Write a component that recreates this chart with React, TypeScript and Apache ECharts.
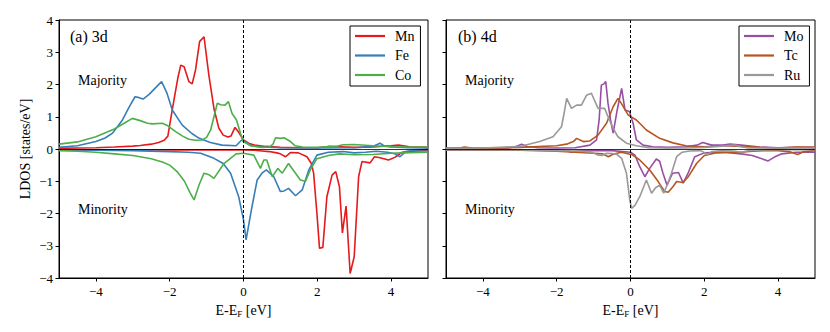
import React, { useEffect, useRef } from "react";
import * as echarts from "echarts";

// ---------- data (energy E-E_F in eV, LDOS in states/eV) ----------
// (a) 3d
const mnUpE = [-5, -4.5, -4, -3.5, -3, -2.8, -2.5, -2.3, -2.15, -2.05, -1.97, -1.88, -1.78, -1.7, -1.61, -1.48, -1.39, -1.3, -1.19, -1.07, -0.94, -0.8, -0.67, -0.55, -0.42, -0.34, -0.23, -0.13, 0, 0.15, 0.3, 0.6, 1, 1.5, 2, 2.3, 2.6, 3, 3.5, 4, 4.2, 4.5, 5];
const mnUpV = [0.02, 0.03, 0.04, 0.06, 0.09, 0.11, 0.15, 0.2, 0.27, 0.4, 0.95, 1.55, 2.2, 2.6, 2.55, 2.09, 2.02, 2.45, 3.33, 3.48, 2.3, 1.25, 0.65, 0.43, 0.37, 0.4, 0.67, 0.52, 0.28, 0.17, 0.12, 0.08, 0.05, 0.04, 0.04, 0.08, 0.07, 0.05, 0.06, 0.1, 0.12, 0.07, 0.05];
const mnDnE = [-5, -3, -1, 0, 0.3, 0.5, 0.7, 0.9, 1.0, 1.14, 1.27, 1.49, 1.72, 1.84, 1.9, 1.99, 2.06, 2.15, 2.26, 2.4, 2.5, 2.6, 2.68, 2.78, 2.89, 3.0, 3.12, 3.21, 3.43, 3.55, 3.7, 3.93, 4.1, 4.3, 4.5, 5];
const mnDnV = [-0.02, -0.03, -0.03, -0.03, -0.04, -0.06, -0.08, -0.12, -0.15, -0.24, -0.11, -0.12, -0.24, -0.45, -0.75, -2.0, -3.08, -3.05, -1.48, -0.81, -0.7, -1.17, -2.6, -1.77, -3.86, -3.34, -0.86, -0.39, -0.43, -0.24, -0.27, -0.34, -0.26, -0.1, -0.07, -0.05];

const feUpE = [-5, -4.5, -4, -3.75, -3.55, -3.28, -3.1, -2.94, -2.85, -2.72, -2.55, -2.4, -2.22, -2.08, -1.93, -1.66, -1.4, -1.2, -0.9, -0.58, -0.2, -0.05, 0.05, 0.2, 0.5, 1, 2, 3, 3.5, 3.7, 3.8, 4, 4.5, 5];
const feUpV = [0.05, 0.1, 0.23, 0.34, 0.49, 0.9, 1.3, 1.62, 1.6, 1.55, 1.7, 1.88, 2.09, 1.75, 1.21, 0.74, 0.48, 0.33, 0.2, 0.12, 0.1, 0.28, 0.22, 0.1, 0.06, 0.04, 0.03, 0.04, 0.08, 0.18, 0.1, 0.06, 0.04, 0.03];
const feDnE = [-5, -4, -3, -2, -1.5, -1.16, -0.8, -0.55, -0.35, -0.13, 0, 0.07, 0.15, 0.23, 0.37, 0.5, 0.62, 0.82, 1.0, 1.1, 1.22, 1.41, 1.59, 1.77, 1.99, 2.3, 2.7, 3.0, 3.3, 3.6, 3.9, 4.1, 4.24, 4.4, 4.7, 5];
const feDnV = [-0.03, -0.04, -0.05, -0.08, -0.1, -0.13, -0.29, -0.45, -0.75, -1.48, -2.2, -2.82, -2.3, -1.79, -0.96, -0.75, -0.65, -0.86, -1.32, -1.3, -1.22, -1.45, -1.27, -0.65, -0.19, -0.1, -0.08, -0.12, -0.1, -0.07, -0.1, -0.15, -0.24, -0.08, -0.03, -0.02];

const coUpE = [-5, -4.5, -4, -3.5, -3.2, -3.01, -2.8, -2.6, -2.47, -2.2, -2.05, -1.84, -1.65, -1.48, -1.3, -1.12, -1.0, -0.89, -0.71, -0.62, -0.5, -0.41, -0.31, -0.19, -0.08, 0, 0.2, 0.5, 0.7, 0.8, 0.87, 1.0, 1.1, 1.25, 1.4, 1.6, 2, 2.5, 2.7, 3, 3.5, 4, 5];
const coUpV = [0.15, 0.22, 0.38, 0.62, 0.82, 0.95, 0.88, 0.8, 0.78, 0.8, 0.72, 0.54, 0.4, 0.3, 0.27, 0.28, 0.36, 0.59, 1.42, 1.37, 1.36, 1.47, 1.1, 0.9, 0.48, 0.22, 0.1, 0.05, 0.06, 0.15, 0.35, 0.33, 0.35, 0.25, 0.1, 0.06, 0.05, 0.08, 0.13, 0.14, 0.1, 0.07, 0.06];
const coDnE = [-5, -4.5, -4, -3.5, -3, -2.5, -2.2, -2.0, -1.8, -1.6, -1.45, -1.34, -1.2, -1.07, -0.93, -0.8, -0.53, -0.2, 0, 0.28, 0.46, 0.55, 0.63, 0.78, 0.93, 1.05, 1.22, 1.41, 1.54, 1.68, 1.81, 1.99, 2.3, 2.6, 3.0, 3.5, 4.0, 4.3, 5];
const coDnV = [-0.05, -0.07, -0.1, -0.15, -0.2, -0.3, -0.4, -0.5, -0.7, -1.0, -1.35, -1.58, -1.1, -0.75, -0.8, -0.91, -0.45, -0.15, -0.13, -0.19, -0.6, -0.34, -0.34, -0.86, -0.6, -0.75, -0.45, -0.75, -0.96, -1.0, -0.65, -0.3, -0.2, -0.15, -0.18, -0.17, -0.13, -0.12, -0.1];

// (b) 4d
const moUpE = [-5, -4, -3.3, -3.1, -2.95, -2.8, -2.5, -2, -1.5, -1.1, -0.92, -0.85, -0.79, -0.72, -0.67, -0.61, -0.54, -0.47, -0.36, -0.24, -0.15, -0.03, 0.07, 0.16, 0.34, 0.6, 1, 1.5, 1.8, 1.96, 2.2, 2.5, 2.7, 3.0, 3.5, 4, 4.5, 5];
const moUpV = [0.02, 0.02, 0.03, 0.08, 0.15, 0.08, 0.04, 0.03, 0.04, 0.12, 0.28, 0.9, 1.98, 2.02, 2.09, 1.42, 0.9, 0.49, 1.21, 1.88, 1.21, 1.16, 0.8, 0.28, 0.12, 0.07, 0.05, 0.07, 0.12, 0.2, 0.12, 0.12, 0.15, 0.12, 0.06, 0.04, 0.05, 0.05];
const moDnE = [-5, -4, -3, -2, -1.7, -1.6, -1.45, -1.2, -1.0, -0.5, 0, 0.12, 0.25, 0.39, 0.52, 0.7, 0.79, 0.88, 0.99, 1.14, 1.3, 1.43, 1.56, 1.74, 2.0, 2.5, 3.0, 3.3, 3.5, 3.73, 3.9, 4.1, 4.5, 5];
const moDnV = [-0.03, -0.03, -0.03, -0.04, -0.06, -0.1, -0.06, -0.05, -0.05, -0.05, -0.1, -0.19, -0.55, -0.86, -0.6, -0.31, -0.38, -0.75, -1.12, -0.75, -0.73, -1.06, -0.75, -0.24, -0.12, -0.1, -0.15, -0.2, -0.28, -0.37, -0.25, -0.15, -0.1, -0.1];

const tcUpE = [-5, -4.6, -4.5, -4.3, -4, -3, -2, -1.7, -1.55, -1.46, -1.28, -1.1, -0.88, -0.65, -0.47, -0.34, -0.24, -0.06, 0.16, 0.43, 0.79, 1.15, 1.5, 2, 2.5, 3, 3.5, 4, 4.5, 5];
const tcUpV = [0.02, 0.04, 0.06, 0.03, 0.02, 0.05, 0.1, 0.16, 0.23, 0.33, 0.23, 0.25, 0.43, 0.8, 1.31, 1.57, 1.4, 1.05, 0.9, 0.59, 0.33, 0.19, 0.1, 0.07, 0.1, 0.08, 0.05, 0.03, 0.06, 0.05];
const tcDnE = [-5, -4, -3, -2, -1.5, -1.0, -0.75, -0.6, -0.5, -0.4, -0.25, -0.1, 0.05, 0.25, 0.52, 0.75, 0.93, 1.02, 1.15, 1.25, 1.42, 1.56, 1.79, 2.0, 2.3, 2.7, 3.0, 3.3, 3.6, 4.0, 4.3, 4.53, 4.7, 5];
const tcDnV = [-0.02, -0.03, -0.04, -0.07, -0.1, -0.13, -0.15, -0.24, -0.18, -0.14, -0.1, -0.14, -0.18, -0.34, -0.65, -1.01, -1.32, -1.34, -1.17, -1.01, -1.04, -0.87, -0.45, -0.2, -0.12, -0.1, -0.1, -0.07, -0.05, -0.05, -0.08, -0.17, -0.08, -0.05];

const ruUpE = [-5, -4, -3, -2.46, -2.1, -1.87, -1.8, -1.73, -1.6, -1.46, -1.33, -1.19, -1.06, -0.88, -0.7, -0.61, -0.47, -0.34, -0.11, 0.16, 0.5, 1, 1.5, 2, 2.4, 2.83, 3.0, 3.2, 4, 5];
const ruUpV = [0.02, 0.03, 0.08, 0.23, 0.38, 0.69, 1.1, 1.57, 1.26, 1.36, 1.36, 1.67, 1.73, 1.26, 1.26, 1.0, 0.64, 0.38, 0.18, 0.1, 0.04, 0.03, 0.03, 0.05, 0.08, 0.12, 0.07, 0.03, 0.03, 0.03];
const ruDnE = [-5, -3, -2, -1.5, -1.1, -0.88, -0.77, -0.65, -0.5, -0.38, -0.24, -0.11, -0.02, 0.03, 0.12, 0.25, 0.43, 0.57, 0.68, 0.79, 0.9, 1.0, 1.11, 1.25, 1.4, 1.6, 1.9, 2.1, 2.2, 2.5, 2.8, 3.0, 3.2, 3.6, 4, 5];
const ruDnV = [-0.02, -0.03, -0.05, -0.06, -0.08, -0.19, -0.2, -0.13, -0.14, -0.16, -0.29, -0.75, -1.58, -1.84, -1.75, -1.48, -0.96, -1.37, -1.2, -1.12, -1.37, -1.1, -0.75, -0.24, -0.1, -0.06, -0.05, -0.17, -0.08, -0.05, -0.06, -0.1, -0.05, -0.03, -0.02, -0.02];

const xTicks = [-4, -2, 0, 2, 4];
const panelTitles = ["(a) 3d", "(b) 4d"];
const legendA = ["Mn", "Fe", "Co"];
const legendB = ["Mo", "Tc", "Ru"];

const FONT = "'Liberation Serif', 'Times New Roman', serif";
const colors: Record<string, string> = {
  Mn: "#e41a1c",
  Fe: "#377eb8",
  Co: "#4daf4a",
  Mo: "#984ea3",
  Tc: "#b5561f",
  Ru: "#999999",
};

function zip(E: number[], V: number[]) {
  return E.map((e, i) => [e, V[i]]);
}

function line(name: string, E: number[], V: number[], panel: number, extra: any = {}) {
  return {
    type: "line",
    name,
    xAxisIndex: panel,
    yAxisIndex: panel,
    data: zip(E, V),
    showSymbol: false,
    symbol: "none",
    lineStyle: { color: colors[name], width: 1.6 },
    itemStyle: { color: colors[name] },
    ...extra,
  };
}

const refLines = {
  silent: true,
  symbol: "none",
  label: { show: false },
  emphasis: { disabled: true },
  data: [
    { xAxis: 0, lineStyle: { color: "#000", type: [3, 2], width: 1 } },
    { yAxis: 0, lineStyle: { color: "#000", type: "solid", width: 0.8 } },
  ],
};

export default function App() {
  const ref = useRef<HTMLDivElement>(null);
  useEffect(() => {
    if (!ref.current) return;
    const chart = echarts.init(ref.current, undefined, { renderer: "svg" });
    const lefts = [59, 446];
    const rights = [830 - 428, 830 - 815];

    const xAxes = [0, 1].map((i) => ({
      type: "value",
      gridIndex: i,
      min: -5,
      max: 5,
      name: "E-E{sub|F} [eV]",
      nameLocation: "middle",
      nameGap: 21,
      nameTextStyle: {
        color: "#000",
        fontFamily: FONT,
        fontSize: 14,
        lineHeight: 16,
        rich: { sub: { fontSize: 9, fontFamily: FONT, color: "#000", verticalAlign: "bottom", lineHeight: 11 } },
      },
      axisLine: { show: true, onZero: false, lineStyle: { color: "#000", width: 1 } },
      axisTick: { show: true, length: 3.5, customValues: xTicks, lineStyle: { color: "#000" } },
      axisLabel: {
        customValues: xTicks,
        color: "#000",
        fontFamily: FONT,
        fontSize: 13,
        margin: 7,
        formatter: (v: number) => String(v).replace("-", "\u2212"),
      },
      splitLine: { show: false },
    }));

    const yAxes = [0, 1].map((i) => ({
      type: "value",
      gridIndex: i,
      min: -4,
      max: 4,
      interval: 1,
      name: i === 0 ? "LDOS [states/eV]" : "",
      nameLocation: "middle",
      nameGap: 27,
      nameTextStyle: { color: "#000", fontFamily: FONT, fontSize: 14 },
      axisLine: { show: true, onZero: false, lineStyle: { color: "#000", width: 1 } },
      axisTick: { show: true, length: 3.5, lineStyle: { color: "#000" } },
      axisLabel: {
        show: i === 0,
        color: "#000",
        fontFamily: FONT,
        fontSize: 13,
        margin: 6,
        formatter: (v: number) => String(v).replace("-", "\u2212"),
      },
      splitLine: { show: false },
    }));

    const legendCommon = {
      orient: "vertical",
      top: 26,
      padding: [3, 6, 4, 5],
      itemWidth: 30,
      itemHeight: 2.2,
      itemGap: 5.5,
      icon: "rect",
      borderColor: "#000",
      borderWidth: 1,
      backgroundColor: "#fff",
      selectedMode: false,
      textStyle: { color: "#000", fontFamily: FONT, fontSize: 14, lineHeight: 14, padding: [0, 0, 0, 5] },
    };

    const textEl = (text: string, x: number, y: number, size: number) => ({
      type: "text",
      x,
      y,
      z: 100,
      style: { text, fill: "#000", fontFamily: FONT, fontSize: size, verticalAlign: "middle", align: "left" },
    });

    const option: any = {
      animation: false,
      backgroundColor: "#fff",
      grid: [0, 1].map((i) => ({
        left: lefts[i],
        right: rights[i],
        top: 20,
        bottom: 54,
        show: true,
        borderColor: "#000",
        borderWidth: 1,
        backgroundColor: "transparent",
      })),
      xAxis: xAxes,
      yAxis: yAxes,
      legend: [
        { ...legendCommon, left: 350, data: legendA },
        { ...legendCommon, left: 739, data: legendB },
      ],
      graphic: [
        textEl(panelTitles[0], 70, 36, 16),
        textEl("Majority", 78, 80, 14),
        textEl("Minority", 78, 209, 14),
        textEl(panelTitles[1], 458, 36, 16),
        textEl("Majority", 465, 80, 14),
        textEl("Minority", 465, 209, 14),
      ],
      series: [
        line("Mn", mnUpE, mnUpV, 0, { markLine: refLines }),
        line("Mn", mnDnE, mnDnV, 0),
        line("Fe", feUpE, feUpV, 0),
        line("Fe", feDnE, feDnV, 0),
        line("Co", coUpE, coUpV, 0),
        line("Co", coDnE, coDnV, 0),
        line("Mo", moUpE, moUpV, 1, { markLine: refLines }),
        line("Mo", moDnE, moDnV, 1),
        line("Tc", tcUpE, tcUpV, 1),
        line("Tc", tcDnE, tcDnV, 1),
        line("Ru", ruUpE, ruUpV, 1),
        line("Ru", ruDnE, ruDnV, 1),
      ],
    };
    chart.setOption(option);
    return () => chart.dispose();
  }, []);
  return <div ref={ref} style={{ width: 830, height: 332, margin: -8 }} />;
}
